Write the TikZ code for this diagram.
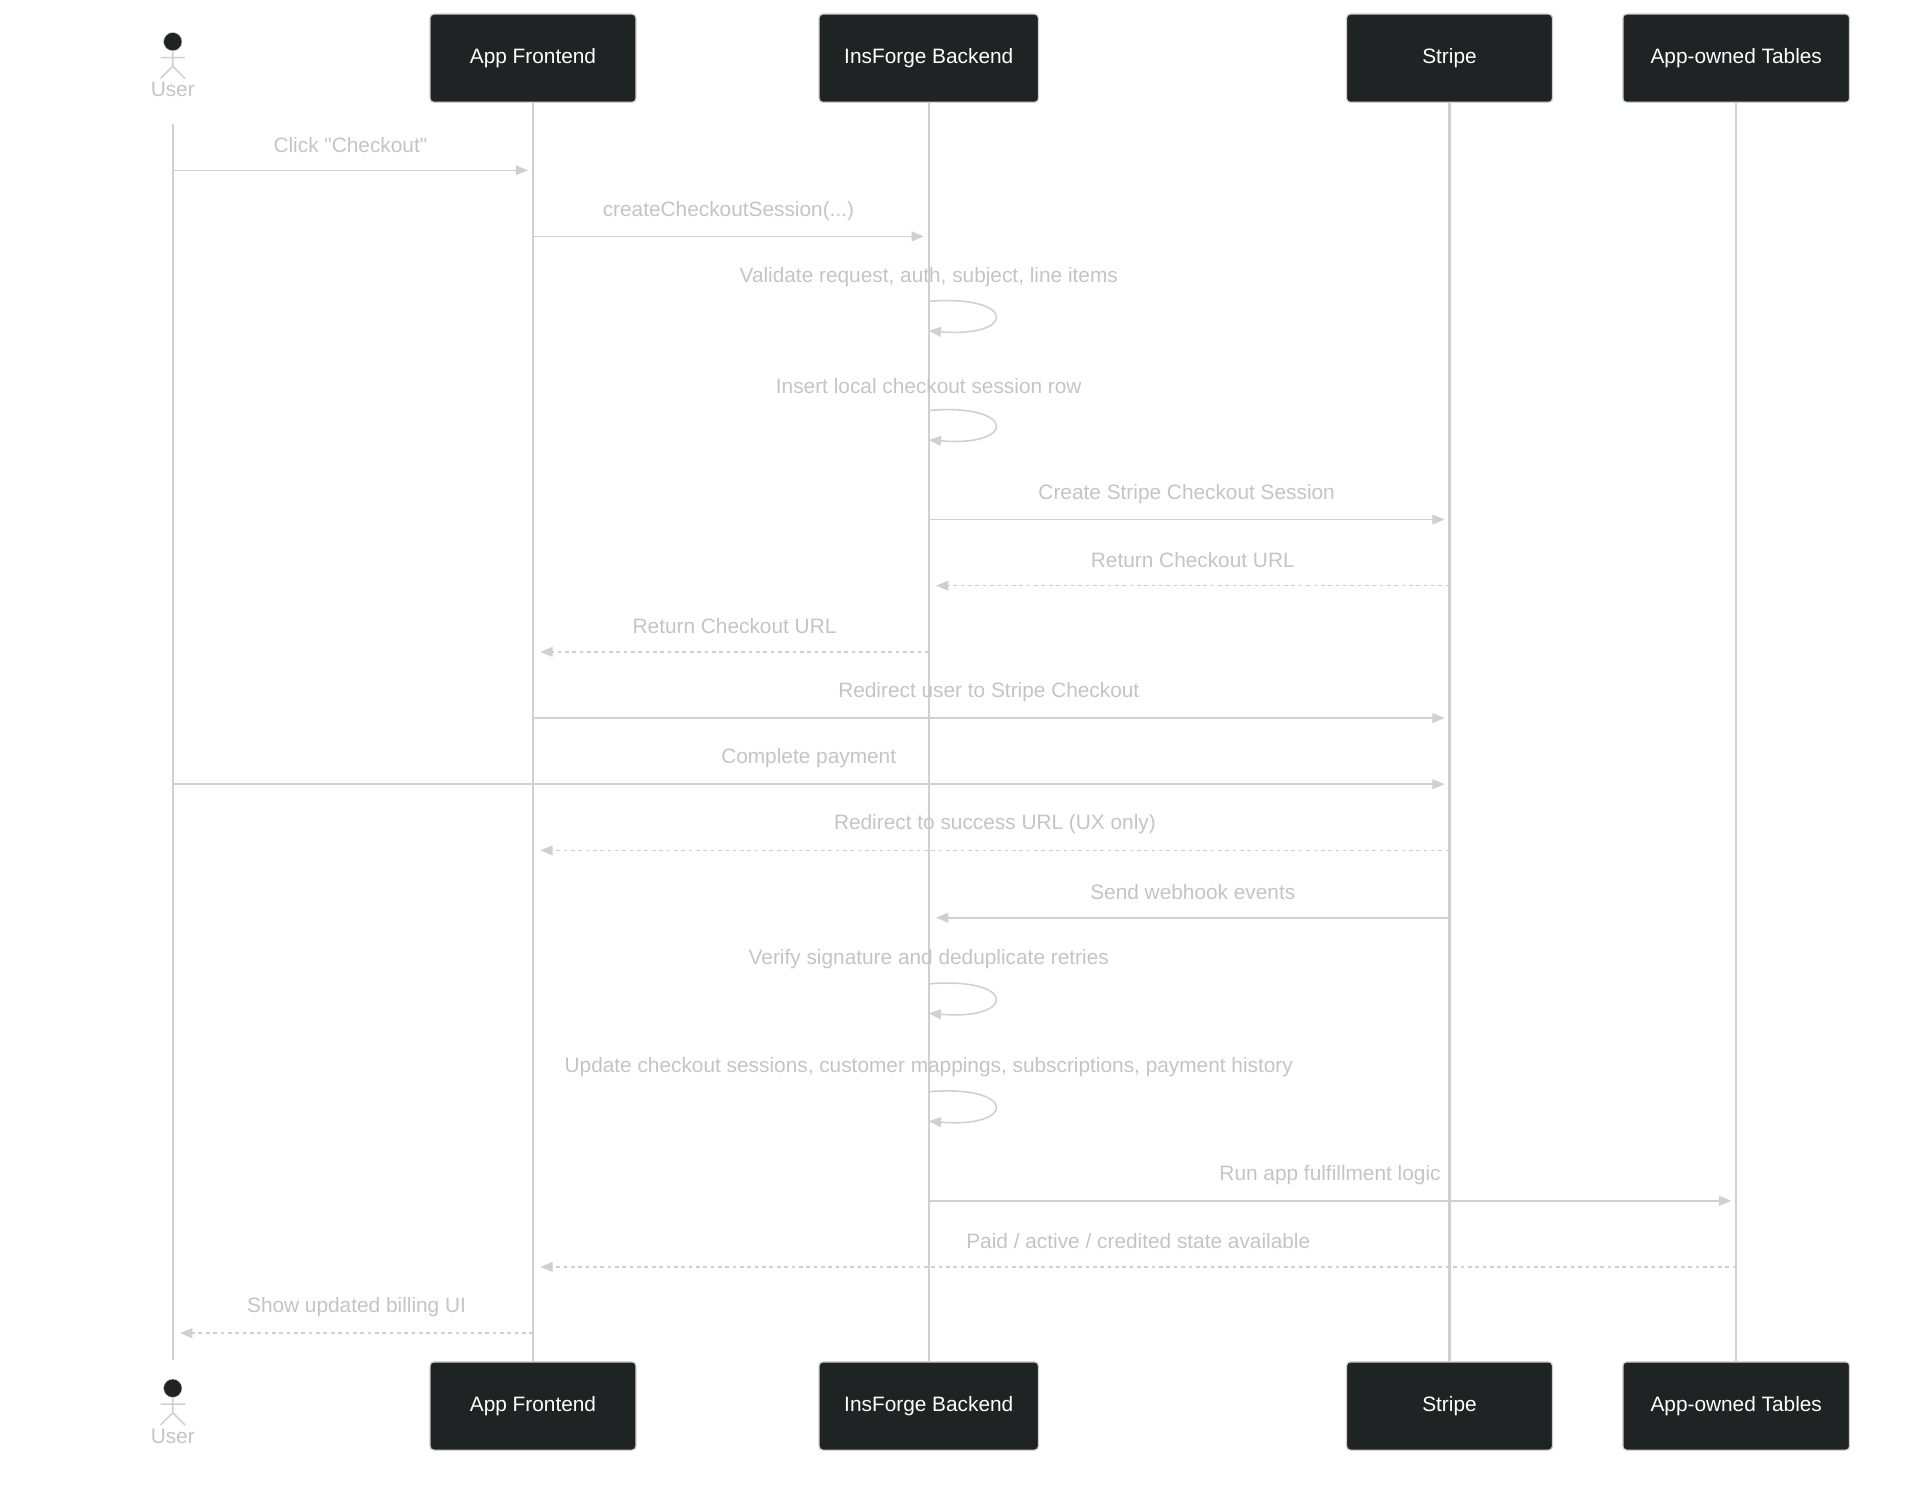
\documentclass[tikz,border=0pt]{standalone}
\usepackage{fontspec}
\setmainfont{Liberation Sans}
\newfontfamily\lab{Liberation Sans}
\usetikzlibrary{arrows.meta}
\definecolor{box}{HTML}{1F2323}
\definecolor{ln}{HTML}{D0D0D0}
\definecolor{tx}{HTML}{C4C4C4}
\begin{document}
\begin{tikzpicture}[x=1pt,y=-1pt,
  actor/.style={fill=box,draw=ln,line width=1pt,rounded corners=3pt,minimum width=#1,minimum height=72pt,text=white,font=\lab\fontsize{17}{20}\selectfont},
  life/.style={draw=ln,line width=1.8pt},
  msg/.style={draw=ln,line width=1.3pt,-{Triangle[length=10pt,width=8pt]}},
  dmsg/.style={msg,dash pattern=on 3pt off 3pt},
  lbl/.style={text=tx,font=\lab\fontsize{17}{20}\selectfont}]
\useasboundingbox (0,0) rectangle (1567,1230);
% actors
\foreach \n/\x/\w/\t in {F/435/168/App Frontend,B/758/179/InsForge Backend,S/1183/168/Stripe,T/1417/185/App-owned Tables}{
  \node[actor=\w] (\n top) at (\x,47.5) {\t};
  \node[actor=\w] (\n bot) at (\x,1147.5) {\t};
  \draw[life] (\n top.south) -- (\n bot.north);
}
\foreach \y/\s in {34/top,1133/bot}{
  \node[circle,fill=box,draw=ln,inner sep=0,minimum size=15pt] (Uh\s) at (141,\y) {};
  \draw[ln,line width=1.3pt] (141,\y+8) -- (141,\y+20) (131,\y+13) -- (151,\y+13) (131,\y+30) -- (141,\y+20) -- (151,\y+30);
  \node[lbl] (Ul\s) at (141,\y+39) {User};
}
\coordinate (Ua) at (141,101); \coordinate (Ub) at (141,1110);
\draw[life] (Ua) -- (Ub);
% messages
\newcommand\msgline[6]{%
  \coordinate (m#6a) at (#2,#4); \coordinate (m#6b) at (#3,#4);
  \draw[#1] (m#6a) -- (m#6b);
  \node[lbl] (l#6) at ({(#2+#3)/2},#4-21) {#5};}
\msgline{msg}{141}{431}{139}{Click "Checkout"}{1}
\msgline{msg}{435}{754}{193}{createCheckoutSession(...)}{2}
\msgline{msg}{758}{1179}{424}{Create Stripe Checkout Session}{5}
\msgline{dmsg}{1183}{764}{478}{Return Checkout URL}{6}
\msgline{dmsg}{758}{441}{532}{Return Checkout URL}{7}
\msgline{msg}{435}{1179}{586}{Redirect user to Stripe Checkout}{8}
\msgline{msg}{141}{1179}{640}{Complete payment}{9}
\msgline{dmsg}{1183}{441}{694}{Redirect to success URL (UX only)}{10}
\msgline{msg}{1183}{764}{749}{Send webhook events}{11}
\msgline{msg}{758}{1413}{980}{Run app fulfillment logic}{14}
\msgline{dmsg}{1417}{441}{1034}{Paid / active / credited state available}{15}
\msgline{dmsg}{435}{147}{1088}{Show updated billing UI}{16}
% self messages
\newcommand\selfmsg[3]{%
  \node[lbl] (s#3) at (758,#1) {#2};
  \coordinate (s#3a) at (758,#1+20); \coordinate (s#3b) at (758,#1+44);
  \draw[msg] (s#3a) .. controls (830,#1+14) and (830,#1+50) .. (s#3b);}
\selfmsg{226}{Validate request, auth, subject, line items}{3}
\selfmsg{315}{Insert local checkout session row}{4}
\selfmsg{783}{Verify signature and deduplicate retries}{12}
\selfmsg{871}{Update checkout sessions, customer mappings, subscriptions, payment history}{13}
\end{tikzpicture}
\end{document}
